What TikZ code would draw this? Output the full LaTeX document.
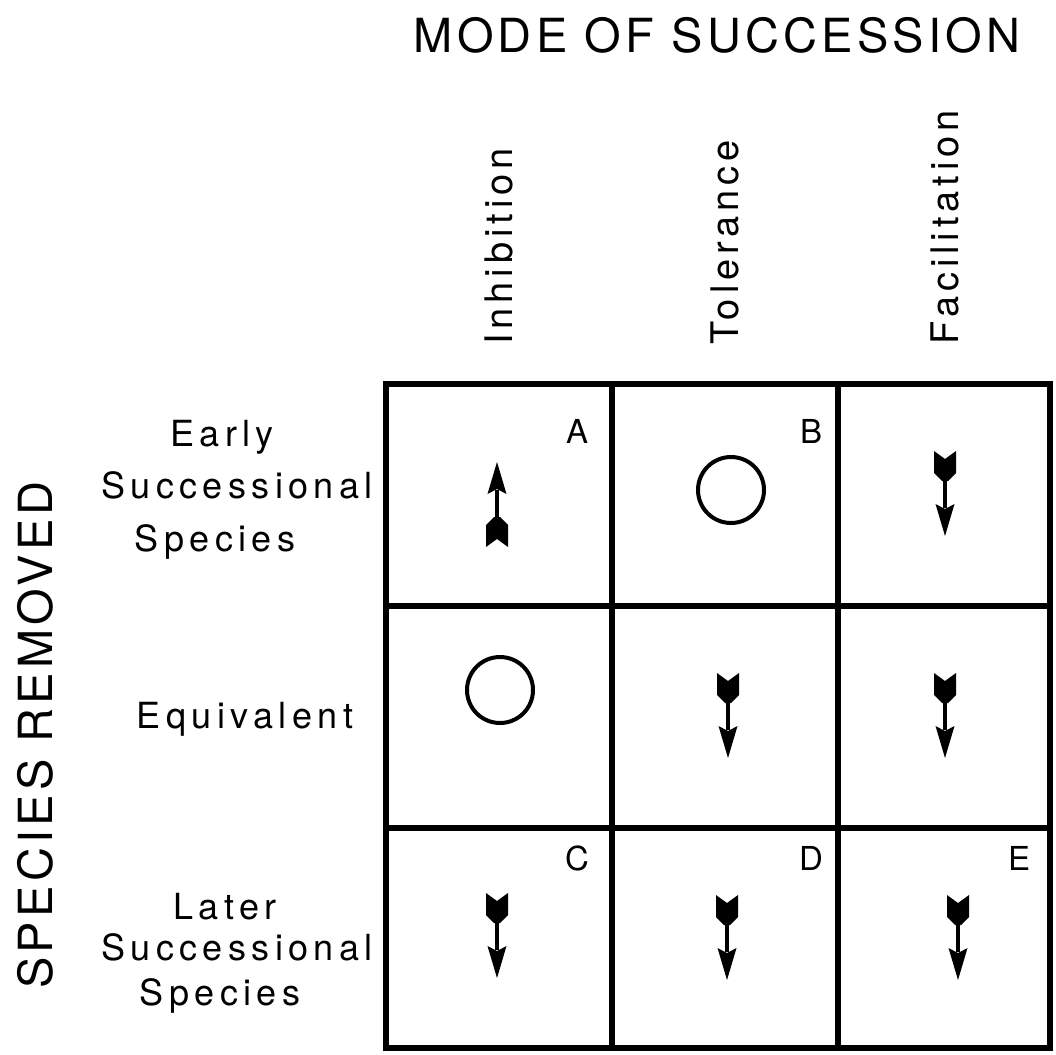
\documentclass[tikz,border=0pt]{standalone}
\usepackage{fontspec}
\setmainfont{TeX Gyre Heros}
\newfontfamily\headfont[LetterSpace=9]{TeX Gyre Heros}
\newfontfamily\colfont[LetterSpace=13]{TeX Gyre Heros}
\newfontfamily\rowfont[LetterSpace=15]{TeX Gyre Heros}
\begin{document}
\begin{tikzpicture}[x=1pt,y=-1pt,
  heading/.style={inner sep=0pt,font=\headfont\fontsize{47}{50}\selectfont},
  colhead/.style={inner sep=0pt,rotate=90,anchor=base west,font=\colfont\fontsize{38}{40}\selectfont},
  rowhead/.style={inner sep=0pt,anchor=base,font=\rowfont\fontsize{36}{40}\selectfont},
  cellmark/.style={inner sep=0pt,anchor=base,font=\fontsize{33}{36}\selectfont},
  gridline/.style={line width=6.5pt,line cap=rect},
  ring/.style={line width=4pt},
  dnarrow/.pic={
    % fletching with notched end
    \fill (-11,0) -- (0,8) -- (11,0) -- (11,22) -- (3,30) -- (-3,30) -- (-11,22) -- cycle;
    % shaft
    \fill (-2,28) rectangle (2,57);
    % head
    \fill (-9.5,53) -- (0,58) -- (9.5,53) -- (0,85) -- cycle;
  }]
\useasboundingbox (0,0) rectangle (1056,1054);

% headings
\node[heading] (mode) at (717,35) {MODE OF SUCCESSION};
\node[heading,rotate=90] (removed) at (35,735) {SPECIES REMOVED};

\node[colhead] (inh) at (512,345) {Inhibition};
\node[colhead] (tol) at (738,345) {Tolerance};
\node[colhead] (fac) at (958,345) {Facilitation};

% row labels
\node[rowhead] (early1) at (222,446) {Early};
\node[rowhead,anchor=base east] (early2) at (373,498) {Successional};
\node[rowhead] (early3) at (215,551) {Species};
\node[rowhead] (equiv) at (245,728) {Equivalent};
\node[rowhead] (later1) at (225,919) {Later};
\node[rowhead,anchor=base east] (later2) at (373,960) {Successional};
\node[rowhead] (later3) at (220,1005) {Species};

% grid
\draw[gridline] (386,384) rectangle (1050,1048);
\draw[gridline] (612,384) -- (612,1048);
\draw[gridline] (838,384) -- (838,1048);
\draw[gridline] (386,606) -- (1050,606);
\draw[gridline] (386,828) -- (1050,828);

% cell letters
\node[cellmark] (la) at (577,443) {A};
\node[cellmark] (lb) at (811,443) {B};
\node[cellmark] (lc) at (577,870) {C};
\node[cellmark] (ld) at (811,870) {D};
\node[cellmark] (le) at (1019,870) {E};

% cell contents
\pic[yscale=-1] at (497,547) {dnarrow};
\draw[ring] (731,490) circle (33);
\pic at (945,451) {dnarrow};

\draw[ring] (500,690) circle (33);
\pic at (728,673) {dnarrow};
\pic at (945,673) {dnarrow};

\pic at (497,893) {dnarrow};
\pic at (727,895) {dnarrow};
\pic at (958,895) {dnarrow};
\end{tikzpicture}
\end{document}
